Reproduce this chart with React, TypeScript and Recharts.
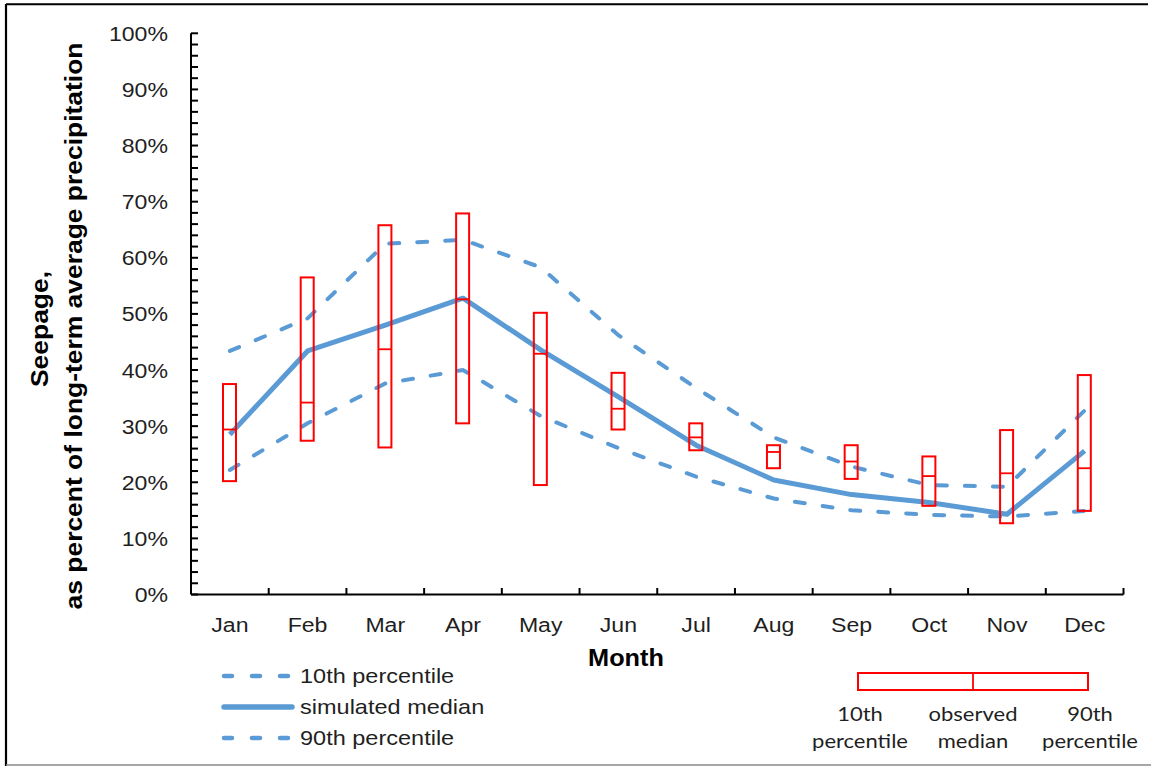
import React from 'react';
import { ComposedChart, Line, Bar, XAxis, YAxis } from 'recharts';

const months = ['Jan', 'Feb', 'Mar', 'Apr', 'May', 'Jun', 'Jul', 'Aug', 'Sep', 'Oct', 'Nov', 'Dec'];
const sim90 = [43.4, 49.2, 62.5, 63.2, 58.3, 46.2, 36.8, 28.0, 22.8, 19.5, 19.2, 32.8];
const simMedian = [28.5, 43.4, 48.0, 52.8, 43.6, 35.2, 26.6, 20.4, 17.8, 16.4, 14.3, 25.6];
const sim10 = [22.2, 30.5, 37.6, 40.0, 31.8, 26.1, 21.0, 17.1, 15.0, 14.2, 13.9, 14.9];
const obs90 = [37.5, 56.5, 65.8, 67.9, 50.2, 39.5, 30.5, 26.6, 26.6, 24.6, 29.3, 39.1];
const obsMedian = [29.4, 34.2, 43.7, 52.6, 42.9, 33.1, 28.0, 25.4, 23.7, 21.1, 21.6, 22.5];
const obs10 = [20.2, 27.4, 26.2, 30.5, 19.5, 29.4, 25.7, 22.5, 20.6, 15.8, 12.7, 14.9];
const yTicks = [0, 2, 4, 6, 8, 10, 12, 14, 16, 18, 20, 22, 24, 26, 28, 30, 32, 34, 36, 38, 40, 42, 44, 46, 48, 50, 52, 54, 56, 58, 60, 62, 64, 66, 68, 70, 72, 74, 76, 78, 80, 82, 84, 86, 88, 90, 92, 94, 96, 98, 100];
const yLabelTicks = [0, 10, 20, 30, 40, 50, 60, 70, 80, 90, 100];

const data = months.map((m, i) => ({
  month: m,
  p90: sim90[i],
  med: simMedian[i],
  p10: sim10[i],
  obs: [obs10[i], obs90[i]],
  obsLow: obs10[i],
  obsHigh: obs90[i],
  obsMed: obsMedian[i],
}));

const W = 1151;
const H = 767;
const M_TOP = 33.3;
const M_RIGHT = 27.5;
const Y_AXIS_W = 191;
const X_AXIS_H = 30;
const M_BOTTOM = H - 594.5 - X_AXIS_H;
const PLOT_W = W - Y_AXIS_W - M_RIGHT;
const BAND = PLOT_W / months.length;

const BLUE = '#5B9BD5';
const RED = '#FF0000';
const TXT = '#1f1f1f';
const FONT = '"Liberation Sans", Arial, sans-serif';

const XTick = (props: any) => {
  const { x, y, payload } = props;
  return (
    <g>
      <line x1={x + BAND / 2} x2={x + BAND / 2} y1={y} y2={y - 6.5} stroke="#000" strokeWidth={2} />
      <text
        transform={`translate(${x},${y + 37}) scale(1.1,1)`}
        textAnchor="middle"
        fontSize={21}
        fontFamily={FONT}
        fill={TXT}
      >
        {payload.value}
      </text>
    </g>
  );
};

const YTick = (props: any) => {
  const { x, y, payload } = props;
  const v = payload.value;
  if (yLabelTicks.indexOf(v) < 0) return <g />;
  return (
    <text
      transform={`translate(${x - 23},${y}) scale(1.1,1)`}
      textAnchor="end"
      dy="0.36em"
      fontSize={21}
      fontFamily={FONT}
      fill={TXT}
    >
      {`${v}%`}
    </text>
  );
};

const BoxShape = (props: any) => {
  const { x, y, width, height, payload } = props;
  if (x == null || y == null) return null;
  const top = Math.min(y, y + height);
  const h = Math.abs(height);
  const lo = payload.obsLow;
  const hi = payload.obsHigh;
  const my = top + (h * (hi - payload.obsMed)) / (hi - lo);
  return (
    <g>
      <rect x={x} y={top} width={width} height={h} fill="none" stroke={RED} strokeWidth={2} />
      <line x1={x} x2={x + width} y1={my} y2={my} stroke={RED} strokeWidth={1.8} />
    </g>
  );
};

const Overlay = () => (
  <svg
    width={W}
    height={H}
    style={{ position: 'absolute', left: 0, top: 0, pointerEvents: 'none' }}
  >
    {/* frame */}
    <line x1={6} x2={1148} y1={4.2} y2={4.2} stroke="#000" strokeWidth={2} />
    <line x1={6} x2={6} y1={4} y2={766} stroke="#000" strokeWidth={2.2} />
    <line x1={6} x2={W} y1={765} y2={765} stroke="#8a8a8a" strokeWidth={1.5} />

    {/* y-axis title */}
    <text
      transform="translate(48,329) rotate(-90) scale(1.15,1)"
      textAnchor="middle"
      fontSize={23}
      fontWeight="bold"
      fontFamily={FONT}
      fill="#000"
    >
      Seepage,
    </text>
    <text
      transform="translate(82,326) rotate(-90) scale(1.15,1)"
      textAnchor="middle"
      fontSize={23}
      fontWeight="bold"
      fontFamily={FONT}
      fill="#000"
    >
      as percent of long-term average precipitation
    </text>

    {/* x-axis title */}
    <text
      transform="translate(626,666) scale(1.1,1)"
      textAnchor="middle"
      fontSize={23}
      fontWeight="bold"
      fontFamily={FONT}
      fill="#000"
    >
      Month
    </text>

    {/* left legend */}
    <line x1={224} x2={292} y1={676} y2={676} stroke={BLUE} strokeWidth={4.5} strokeDasharray="8 20" strokeLinecap="round" />
    <line x1={224} x2={292} y1={707} y2={707} stroke={BLUE} strokeWidth={5.5} strokeLinecap="round" />
    <line x1={224} x2={292} y1={738} y2={738} stroke={BLUE} strokeWidth={4.5} strokeDasharray="8 20" strokeLinecap="round" />
    <text transform="translate(300,683) scale(1.12,1)" fontSize={21} fontFamily={FONT} fill={TXT}>10th percentile</text>
    <text transform="translate(300,714) scale(1.12,1)" fontSize={21} fontFamily={FONT} fill={TXT}>simulated median</text>
    <text transform="translate(300,745) scale(1.12,1)" fontSize={21} fontFamily={FONT} fill={TXT}>90th percentile</text>

    {/* right legend */}
    <rect x={858} y={673} width={230} height={17} fill="none" stroke={RED} strokeWidth={2} />
    <line x1={973} x2={973} y1={673} y2={690} stroke={RED} strokeWidth={1.8} />
    {[
      { cx: 860, l1: '10th', l2: 'percentile' },
      { cx: 973, l1: 'observed', l2: 'median' },
      { cx: 1090, l1: '90th', l2: 'percentile' },
    ].map((d) => (
      <g key={d.l1}>
        <text transform={`translate(${d.cx},721) scale(1.1,1)`} textAnchor="middle" fontSize={20} fontFamily="Lato, sans-serif" fill={TXT}>{d.l1}</text>
        <text transform={`translate(${d.cx},748) scale(1.1,1)`} textAnchor="middle" fontSize={20} fontFamily="Lato, sans-serif" fill={TXT}>{d.l2}</text>
      </g>
    ))}
  </svg>
);

export default function App() {
  return (
    <div style={{ position: 'absolute', left: 0, top: 0, width: W, height: H, background: '#fff' }}>
      <ComposedChart
        width={W}
        height={H}
        data={data}
        margin={{ top: M_TOP, right: M_RIGHT, bottom: M_BOTTOM, left: 0 }}
      >
        <XAxis
          dataKey="month"
          height={X_AXIS_H}
          tickSize={0}
          tickMargin={0}
          tickLine={false}
          axisLine={{ stroke: '#000', strokeWidth: 2 }}
          tick={<XTick />}
          interval={0}
        />
        <YAxis
          width={Y_AXIS_W}
          domain={[0, 100]}
          ticks={yTicks}
          interval={0}
          tickSize={-7}
          tickMargin={7}
          tickLine={{ stroke: '#000', strokeWidth: 2 }}
          axisLine={{ stroke: '#000', strokeWidth: 2 }}
          tick={<YTick />}
          allowDataOverflow
        />
        <Line dataKey="p90" type="linear" stroke={BLUE} strokeWidth={4} strokeDasharray="10 18" strokeLinecap="round" dot={false} activeDot={false} isAnimationActive={false} />
        <Line dataKey="p10" type="linear" stroke={BLUE} strokeWidth={4} strokeDasharray="10 18" strokeLinecap="round" dot={false} activeDot={false} isAnimationActive={false} />
        <Line dataKey="med" type="linear" stroke={BLUE} strokeWidth={5} strokeLinejoin="round" dot={false} activeDot={false} isAnimationActive={false} />
        <Bar dataKey="obs" barSize={13} shape={<BoxShape />} isAnimationActive={false} {...({ zIndex: 450 } as any)} />
      </ComposedChart>
      <Overlay />
    </div>
  );
}
